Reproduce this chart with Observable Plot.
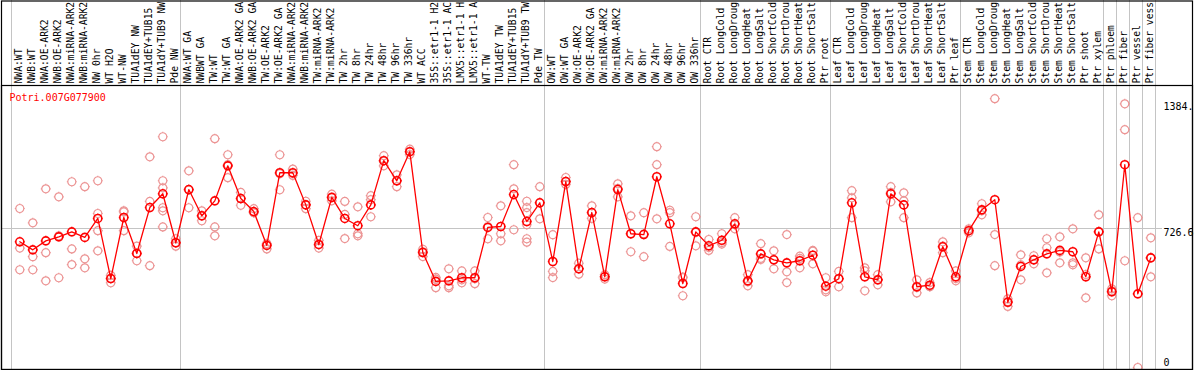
<!DOCTYPE html>
<html>
<head>
<meta charset="utf-8">
<script src="https://cdn.jsdelivr.net/npm/d3@7"></script>
<script src="https://cdn.jsdelivr.net/npm/@observablehq/plot@0.6"></script>
<style>
  html, body { margin: 0; padding: 0; background: white; }
  svg { display: block; }
</style>
</head>
<body>
<div id="chart"></div>
<script>
const geneId = "Potri.007G077900";

const categories = [
  "NWA:WT","NWB:WT","NWA:OE-ARK2","NWB:OE-ARK2","NWA:miRNA-ARK2","NWB:miRNA-ARK2","NW 0hr","WT H2O","WT-NW","TUA1dEY NW","TUA1dEY+TUB15 NW","TUA1dY+TUB9 NW","Pde NW",
  "NWA:WT GA","NWBWT GA","TW:WT","TW:WT GA","NWA:OE-ARK2 GA","NWB:OE-ARK2 GA","TW:OE-ARK2","TW:OE-ARK2 GA","NWA:miRNA-ARK2","NWB:miRNA-ARK2","TW:miRNA-ARK2","TW:miRNA-ARK2","TW 2hr","TW 8hr","TW 24hr","TW 48hr","TW 96hr","TW 336hr","WT ACC","35S::etr1-1 H2O","35S::etr1-1 ACC","LMX5::etr1-1 H2O","LMX5::etr1-1 ACC","WT-TW","TUA1dEY TW","TUA1dEY+TUB15 TW","TUA1dY+TUB9 TW","Pde TW",
  "OW:WT","OW:WT GA","OW:OE-ARK2","OW:OE-ARK2 GA","OW:miRNA-ARK2","OW:miRNA-ARK2","OW 2hr","OW 8hr","OW 24hr","OW 48hr","OW 96hr","OW 336hr",
  "Root CTR","Root LongCold","Root LongDrought","Root LongHeat","Root LongSalt","Root ShortCold","Root ShortDrought","Root ShortHeat","Root ShortSalt","Ptr root",
  "Leaf CTR","Leaf LongCold","Leaf LongDrought","Leaf LongHeat","Leaf LongSalt","Leaf ShortCold","Leaf ShortDrought","Leaf ShortHeat","Leaf ShortSalt","Ptr leaf",
  "Stem CTR","Stem LongCold","Stem LongDrought","Stem LongHeat","Stem LongSalt","Stem ShortCold","Stem ShortDrought","Stem ShortHeat","Stem ShortSalt","Ptr shoot","Ptr xylem",
  "Ptr phloem","Ptr fiber","Ptr vessel","Ptr fiber vessel"
];
const labelMaxChars = 14; // header shows the first 14 characters of each label

// index of the first category of each group (last entry = end)
const groupStarts = [0, 13, 41, 53, 63, 73, 84, 85, 86, 87, 88];

const means = [
  657,615,662,683,709,680,779,465,784,596,836,908,652,
  930,793,871,1054,883,815,638,1018,1018,850,643,889,779,741,850,1081,976,1128,601,450,453,469,469,732,737,904,763,861,
  554,972,516,810,474,930,699,695,997,751,439,709,
  636,665,751,453,594,563,547,558,587,425,
  464,861,474,458,908,850,422,430,631,474,
  715,824,877,341,528,563,594,612,605,474,709,
  396,1060,385,573
];

const replicates = [
  [831,624,511],[756,579,511],[934,600,453],[892,688,469],[971,620,538],[945,568,521],[976,805,715,610],[482,443,465],[819,813,715],[634,558,596],[1101,868,532],[1206,976,939,835,819,735],[673,634,652],
  [1028,835,928],[819,767,793],[1196,735,688],[1112,992,1060],[915,848,883],[830,809,810],[620,648,643],[1112,929,1013],[1037,1004,1014],[869,830,852],[664,624,641],[906,871,889],[868,800,674],[840,699,688],[898,877,788],[1107,1054,1081],[1007,945,976],[1141,1113,1128],[618,580,605],[462,417,471],[516,417,427],[505,443,458],[505,438,464],[784,673,737],[845,699,662],[1060,934,720],[869,836,809,746,673,655],[945,777,861],
  [694,502,470],[993,957,972],[545,488,517],[845,779,810],[485,462,475],[960,892,936],[793,605,699],[809,579,698],[1154,1060,777],[822,809,633],[469,375,473],[788,636,706],
  [669,612,627],[699,645,653],[783,725,746],[485,427,448],[647,571,565],[610,516,563],[695,500,444],[582,521,570],[608,542,612],[469,406,396],
  [502,422,465],[924,887,783],[521,505,401],[485,432,460],[945,866,915],[913,871,783],[458,390,418],[444,422,425],[657,600,635],[505,453,465],
  [725,704,715],[856,798,819],[1405,695,532],[359,319,345],[589,458,536],[584,542,563],[673,626,495],[683,547,604],[725,547,537],[573,364,486],[798,620,711],
  [411,375,401],[1378,1243,558],[783,0],[678,474,573]
];

const yTicks = [0, 726.6, 1384];
const yTickLabels = ["0", "726.6", "1384."];

// tables built from the arrays above
const meanRows = means.map((v, i) => ({i, v}));
const repRows = replicates.flatMap((arr, i) => arr.map(v => ({i, v})));
const tickRows = yTicks.map((v, k) => ({v, label: yTickLabels[k]}));

// ring marker with four short outward ticks
const ringTick = {
  draw(ctx, size) {
    const r = Math.sqrt(size / Math.PI);
    const t = 1.0;
    ctx.moveTo(r, 0);
    ctx.arc(0, 0, r, 0, 2 * Math.PI);
    ctx.moveTo(0, -r); ctx.lineTo(0, -r - t);
    ctx.moveTo(0, r); ctx.lineTo(0, r + t);
    ctx.moveTo(-r, 0); ctx.lineTo(-r - t, 0);
    ctx.moveTo(r, 0); ctx.lineTo(r + t, 0);
  }
};

const font = "'DejaVu Sans Mono', monospace";

const chart = Plot.plot({
  width: 1194,
  height: 370,
  marginTop: 85,
  marginBottom: 1,
  marginLeft: 1,
  marginRight: 2,
  x: {type: "linear", domain: [0, categories.length - 1], range: [19.3, 1150.3], axis: null},
  y: {domain: [-10.5, 1474], range: [369, 85], axis: null},
  style: {fontFamily: font, fontSize: "10px", background: "white", overflow: "hidden"},
  marks: [
    // group separators (extend through header)
    Plot.ruleX(groupStarts, {x: d => d, dx: -8.3, stroke: "#c4c4c4", strokeWidth: 1, insetTop: -85}),
    // reference level
    Plot.ruleY([yTicks[1]], {stroke: "#c4c4c4", strokeWidth: 1, insetRight: 30}),
    // category labels (header)
    Plot.text(categories.map((c, i) => i), {
      x: d => d, text: d => categories[d].slice(0, labelMaxChars), frameAnchor: "top",
      rotate: -90, textAnchor: "start", lineAnchor: "middle",
      dy: -2, dx: -0.8, fill: "black", fontSize: 9.7
    }),
    // replicates
    Plot.dot(repRows, {x: "i", y: "v", r: 4, symbol: ringTick, stroke: "#ec9494", strokeWidth: 1.2, fill: "none"}),
    // mean line
    Plot.line(meanRows, {x: "i", y: "v", stroke: "#ff0000", strokeWidth: 1.3}),
    // means
    Plot.dot(meanRows, {x: "i", y: "v", r: 4, symbol: ringTick, stroke: "#ff0000", strokeWidth: 1.6, fill: "none"}),
    // right value labels
    Plot.text(tickRows.filter(d => d.v !== 0), {
      y: "v", text: "label", frameAnchor: "right", textAnchor: "start",
      lineAnchor: "top", dx: -29, fill: "black", fontSize: 10
    }),
    Plot.text(tickRows.filter(d => d.v === 0), {
      y: "v", text: "label", frameAnchor: "right", textAnchor: "start",
      lineAnchor: "bottom", dx: -29, dy: -1, fill: "black", fontSize: 10
    }),
    // gene id
    Plot.text([geneId], {
      frameAnchor: "top-left", dx: 8, dy: 8, lineAnchor: "top",
      fill: "#ff0000", fontSize: 10
    }),
    // frames
    Plot.frame({stroke: "black", strokeWidth: 1.2}),
    Plot.frame({stroke: "black", strokeWidth: 1.2, insetTop: -84.5})
  ]
});

document.getElementById("chart").appendChild(chart);
</script>
</body>
</html>
